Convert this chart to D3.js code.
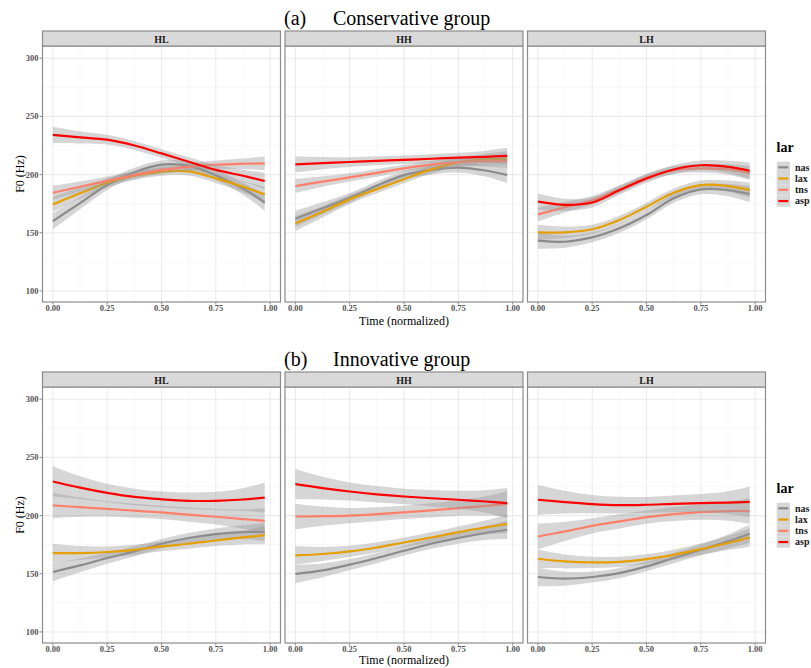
<!DOCTYPE html>
<html><head><meta charset="utf-8">
<script src="https://cdn.jsdelivr.net/npm/d3@7"></script>
<style>body{margin:0;background:#fff} svg{display:block}</style>
</head><body><svg id="c" width="811" height="668"></svg>
<script>
// ---------------- DATA ----------------
const timePoints = [0, 0.125, 0.25, 0.375, 0.5, 0.625, 0.75, 0.875, 0.975];
const tones = ["HL", "HH", "LH"];
const larLevels = ["nas", "lax", "tns", "asp"];
const larColors = ["#8a8a8a", "#E69F00", "#FF7F6A", "#FF0000"];
const groupLabels = ["(a)", "(b)"];
const groupNames = ["Conservative group", "Innovative group"];
const yTicks = [100, 150, 200, 250, 300];
const yMinor = [125, 175, 225, 275];
const xTicks = [0, 0.25, 0.5, 0.75, 1];
const xMinor = [0.125, 0.375, 0.625, 0.875];
const xTickLabels = ["0.00", "0.25", "0.50", "0.75", "1.00"];

// (a) Conservative group — smoothed F0 (Hz)
const consHL_nas = [160, 175.5, 191, 202, 208.5, 207.5, 199.5, 188, 176];
const consHL_lax = [174.4, 184, 193, 199, 202.4, 202.8, 196.7, 189.5, 183];
const consHL_tns = [184.4, 189.5, 194.7, 199.5, 204, 206.7, 208.5, 209.3, 209.6];
const consHL_asp = [234.2, 232, 230, 225, 218.2, 211, 204, 199, 194.5];
const consHH_nas = [162, 171, 180, 190.5, 199.5, 204, 206, 203.5, 199.6];
const consHH_lax = [158, 168, 178.7, 187.5, 196, 204.5, 210.5, 213, 213.5];
const consHH_tns = [190.1, 194, 197.6, 201.5, 205.3, 208.5, 210.8, 211.5, 211.5];
const consHH_asp = [208.8, 209.8, 210.8, 211.8, 212.7, 213.6, 214.5, 215.3, 216];
const consLH_nas = [143.2, 142.3, 146, 153.8, 165.2, 179.6, 187.3, 186.7, 183.3];
const consLH_lax = [150.4, 150.4, 153, 161, 172.4, 184.4, 191, 190.1, 186.7];
const consLH_tns = [165.8, 172, 178, 187.3, 197.6, 203.9, 205.3, 204.4, 201.5];
const consLH_asp = [176.7, 174, 176, 186.5, 196.7, 204.4, 208, 206.7, 203.3];

// (b) Innovative group — smoothed F0 (Hz)
const innoHL_nas = [151.5, 157.2, 163.5, 169.2, 175.8, 180.7, 184.1, 185.8, 185.8];
const innoHL_lax = [167.8, 167.8, 168.7, 170.6, 173.5, 175.8, 178.6, 181.2, 183.2];
const innoHL_tns = [208.7, 207.2, 205.8, 204.2, 202.7, 200.8, 199, 197, 195.5];
const innoHL_asp = [229.3, 224, 219.5, 216, 214, 212.7, 212.7, 213.8, 215.5];
const innoHH_nas = [149.8, 152.9, 157.8, 163.5, 169.8, 175.8, 180.7, 185, 187.8];
const innoHH_lax = [165.8, 167, 169.2, 172.6, 176.9, 181.2, 185.8, 189.8, 192.9];
const innoHH_tns = [199.2, 199.5, 200, 201.2, 202.7, 204.5, 206.4, 208.3, 210];
const innoHH_asp = [227, 223.6, 220.7, 218.3, 216.4, 214.9, 213.6, 212.1, 210.7];
const innoLH_nas = [147.2, 145.8, 147.2, 150.6, 156.3, 163.5, 170.6, 177.8, 184.4];
const innoLH_lax = [162.9, 160.6, 159.8, 160.3, 162.6, 166.3, 171.2, 176.4, 181.2];
const innoLH_tns = [182, 186.4, 191.2, 195, 198.7, 201.3, 203, 203.9, 203.9];
const innoLH_asp = [213.6, 211.6, 209.9, 209, 209.3, 210.1, 210.7, 211.2, 211.8];

// confidence band half-widths (Hz): shape along time, and end width per lar level
const ciShape = [1, 0.75, 0.6, 0.55, 0.52, 0.55, 0.6, 0.75, 1];
const consCI = [7, 6.5, 6, 7];
const innoCI = [8, 8, 11, 13];

const series = [
  [[consHL_nas, consHL_lax, consHL_tns, consHL_asp],
   [consHH_nas, consHH_lax, consHH_tns, consHH_asp],
   [consLH_nas, consLH_lax, consLH_tns, consLH_asp]],
  [[innoHL_nas, innoHL_lax, innoHL_tns, innoHL_asp],
   [innoHH_nas, innoHH_lax, innoHH_tns, innoHH_asp],
   [innoLH_nas, innoLH_lax, innoLH_tns, innoLH_asp]]
];
const ciByGroup = [consCI, innoCI];

// ---------------- DRAW ----------------
const svg = d3.select("#c");
const serif = "'Liberation Serif','Times New Roman',serif";
const panelLeft = [42, 284.5, 527];
const panelW = 239;
const groupOffset = [0, 341];
const xTitleY = [325, 323];
const borderCol = "#8c8c8c";

const y = d3.scaleLinear().domain([90.5, 310.5]).range([302, 46]);

groupLabels.forEach((gl, gi) => {
  const g = svg.append("g").attr("transform", `translate(0,${groupOffset[gi]})`);
  // title
  g.append("text").attr("x", 284).attr("y", 25).attr("font-family", serif)
    .attr("font-size", 20).attr("fill", "#000").text(gl);
  g.append("text").attr("x", 333).attr("y", 25).attr("font-family", serif)
    .attr("font-size", 20).attr("fill", "#000").text(groupNames[gi]);

  tones.forEach((tone, pi) => {
    const x0 = panelLeft[pi];
    const x = d3.scaleLinear().domain([-0.05, 1.05]).range([x0, x0 + panelW]);
    const p = g.append("g");
    const clipId = `clip${gi}${pi}`;
    p.append("clipPath").attr("id", clipId).append("rect")
      .attr("x", x0).attr("y", 46).attr("width", panelW).attr("height", 256);
    p.append("rect").attr("x", x0).attr("y", 46).attr("width", panelW).attr("height", 256).attr("fill", "#fff");
    // grid
    const grid = p.append("g");
    grid.selectAll(".ymin").data(yMinor).join("line")
      .attr("x1", x0).attr("x2", x0 + panelW).attr("y1", d => y(d)).attr("y2", d => y(d))
      .attr("stroke", "#f3f3f3").attr("stroke-width", 0.7);
    grid.selectAll(".xmin").data(xMinor).join("line")
      .attr("y1", 46).attr("y2", 302).attr("x1", d => x(d)).attr("x2", d => x(d))
      .attr("stroke", "#f3f3f3").attr("stroke-width", 0.7);
    grid.selectAll(".ymaj").data(yTicks).join("line")
      .attr("x1", x0).attr("x2", x0 + panelW).attr("y1", d => y(d)).attr("y2", d => y(d))
      .attr("stroke", "#ebebeb").attr("stroke-width", 1.1);
    grid.selectAll(".xmaj").data(xTicks).join("line")
      .attr("y1", 46).attr("y2", 302).attr("x1", d => x(d)).attr("x2", d => x(d))
      .attr("stroke", "#ebebeb").attr("stroke-width", 1.1);

    // smooths: ribbon then line for each lar level
    const marks = p.append("g").attr("clip-path", `url(#${clipId})`);
    series[gi][pi].forEach((vals, si) => {
      const hw = ciByGroup[gi][si];
      const pts = timePoints.map((t, k) => ({t, v: vals[k], h: hw * ciShape[k]}));
      const area = d3.area().x(d => x(d.t)).y0(d => y(d.v - d.h)).y1(d => y(d.v + d.h))
        .curve(d3.curveCatmullRom.alpha(0.5));
      marks.append("path").attr("d", area(pts)).attr("fill", "#999999").attr("fill-opacity", 0.4);
      const line = d3.line().x(d => x(d.t)).y(d => y(d.v)).curve(d3.curveCatmullRom.alpha(0.5));
      marks.append("path").attr("d", line(pts)).attr("fill", "none")
        .attr("stroke", larColors[si]).attr("stroke-width", 2.2);
    });

    // border
    p.append("rect").attr("x", x0 + 0.5).attr("y", 46).attr("width", panelW - 1).attr("height", 256)
      .attr("fill", "none").attr("stroke", borderCol).attr("stroke-width", 1.2);
    // strip
    p.append("rect").attr("x", x0 + 0.5).attr("y", 31).attr("width", panelW - 1).attr("height", 15)
      .attr("fill", "#d9d9d9").attr("stroke", borderCol).attr("stroke-width", 1.2);
    p.append("text").attr("x", x0 + panelW / 2).attr("y", 42.5).attr("text-anchor", "middle")
      .attr("font-family", serif).attr("font-weight", "bold").attr("font-size", 10)
      .attr("fill", "#1a1a1a").text(tone);

    // x axis ticks
    const xa = p.append("g");
    xa.selectAll("line").data(xTicks).join("line")
      .attr("x1", d => x(d)).attr("x2", d => x(d)).attr("y1", 302).attr("y2", 304.5)
      .attr("stroke", borderCol).attr("stroke-width", 1);
    xa.selectAll("text").data(xTicks).join("text")
      .attr("x", d => x(d)).attr("y", 311).attr("text-anchor", "middle")
      .attr("font-family", serif).attr("font-weight", "bold").attr("font-size", 8.5)
      .attr("fill", "#555").text((d, i) => xTickLabels[i]);

    if (pi === 0) {
      const ya = p.append("g");
      ya.selectAll("line").data(yTicks).join("line")
        .attr("x1", x0 - 2.5).attr("x2", x0).attr("y1", d => y(d)).attr("y2", d => y(d))
        .attr("stroke", borderCol).attr("stroke-width", 1);
      ya.selectAll("text").data(yTicks).join("text")
        .attr("x", x0 - 3.5).attr("y", d => y(d) + 3).attr("text-anchor", "end")
        .attr("font-family", serif).attr("font-weight", "bold").attr("font-size", 8.5)
        .attr("fill", "#555").text(d => d);
    }
  });

  // axis titles
  g.append("text").attr("x", panelLeft[1] + panelW / 2).attr("y", xTitleY[gi]).attr("text-anchor", "middle")
    .attr("font-family", serif).attr("font-size", 12).attr("fill", "#000").text("Time (normalized)");
  g.append("text").attr("transform", "translate(24,174) rotate(-90)").attr("text-anchor", "middle")
    .attr("font-family", serif).attr("font-size", 12).attr("fill", "#000").text("F0 (Hz)");

  // legend
  const lg = g.append("g");
  lg.append("text").attr("x", 776.5).attr("y", 152).attr("font-family", serif)
    .attr("font-weight", "bold").attr("font-size", 14).attr("fill", "#000").text("lar");
  larLevels.forEach((lv, i) => {
    const ky = 161.7 + i * 11.25;
    lg.append("rect").attr("x", 776.7).attr("y", ky).attr("width", 13.3).attr("height", 11.25)
      .attr("fill", "#d6d6d6");
    lg.append("line").attr("x1", 778.3).attr("x2", 788.3).attr("y1", ky + 5.6).attr("y2", ky + 5.6)
      .attr("stroke", larColors[i]).attr("stroke-width", 2.2);
    lg.append("text").attr("x", 795).attr("y", ky + 9).attr("font-family", serif)
      .attr("font-weight", "bold").attr("font-size", 10).attr("fill", "#1a1a1a").text(lv);
  });
});
</script>
</body></html>
